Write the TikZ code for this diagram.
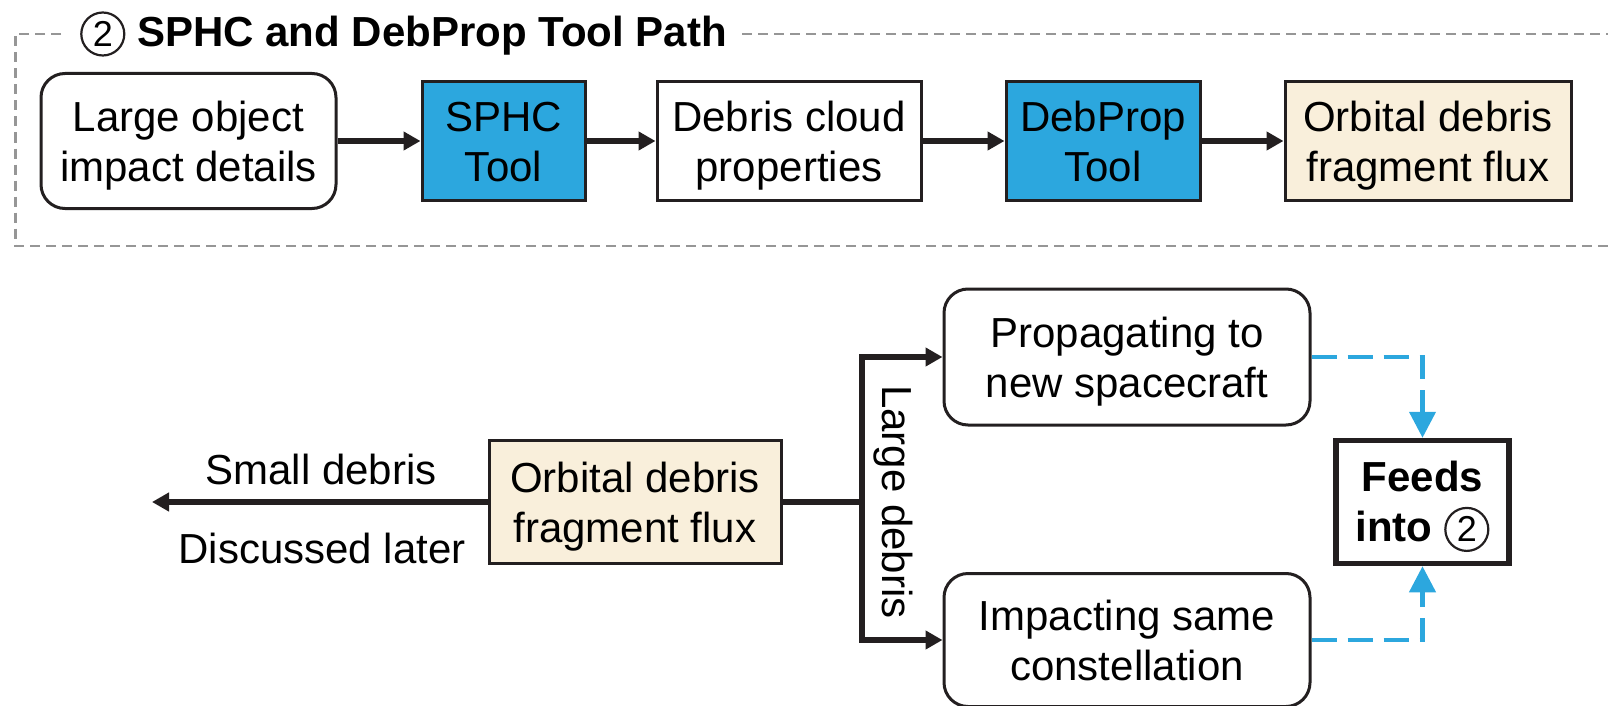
\documentclass[tikz,border=0pt]{standalone}
\usepackage{fontspec}
\setmainfont{Liberation Sans}
\usetikzlibrary{arrows.meta}
\definecolor{ink}{HTML}{231F20}
\definecolor{toolblue}{RGB}{44,167,222}
\definecolor{cream}{RGB}{249,239,219}
\definecolor{framegray}{RGB}{150,150,150}

% circled step number, set inline with the surrounding text
\newcommand{\stepnum}[1]{\tikz[baseline=(c.base)]\node[circle, draw=ink, line width=2.2pt, inner sep=0pt, minimum size=43pt, font=\fontsize{36}{36}\selectfont\mdseries] (c) {#1};}
% fixed line strut so that every two-line label sits the same way in its box
\newcommand{\ls}{\rule[-10pt]{0pt}{50pt}}

\begin{document}
\begin{tikzpicture}[x=1pt, y=-1pt,
  every node/.style={font=\fontsize{42}{50}\selectfont, align=center, inner sep=0pt},
  stepbox/.style={draw=ink, line width=3pt},
  roundbox/.style={stepbox, rounded corners=24pt},
  toolbox/.style={stepbox, fill=toolblue},
  fluxbox/.style={stepbox, fill=cream},
  flow/.style={draw=ink, line width=6.5pt, -{Triangle[length=17pt, width=18pt]}},
  branch/.style={draw=ink, line width=6pt, -{Triangle[length=17pt, width=18pt]}},
  trunk/.style={draw=ink, line width=6pt},
  feed/.style={draw=toolblue, line width=4.3pt, dash pattern=on 25pt off 11pt, -{Triangle[length=26pt, width=26pt]}},
  framedash/.style={draw=framegray, line width=2.2pt, dash pattern=on 10pt off 6pt}]

\useasboundingbox (0,0) rectangle (1608,706);

% dashed group frame, open at the title and running off to the right
\draw[framedash] (61,34) -- (15.5,34) -- (15.5,246) -- (1650,246);
\draw[framedash] (742,34) -- (1650,34);
\node[anchor=west, font=\fontsize{42}{50}\selectfont\bfseries] (title) at (80,34) {\stepnum{2} SPHC and DebProp Tool Path};

% tool path
\node[roundbox, minimum width=295pt, minimum height=135pt] (impact) at (188.5,141) {\ls Large object\\\ls impact details};
\node[toolbox, minimum width=163pt, minimum height=119pt] (sphc) at (503.5,141) {\ls SPHC\\\ls Tool};
\node[stepbox, minimum width=264pt, minimum height=119pt] (cloud) at (789,141) {\ls Debris cloud\\\ls properties};
\node[toolbox, minimum width=194pt, minimum height=119pt] (debprop) at (1103,141) {\ls DebProp\\\ls Tool};
\node[fluxbox, minimum width=286pt, minimum height=119pt] (fluxtop) at (1428,141) {\ls Orbital debris\\\ls fragment flux};

\draw[flow] (impact) -- (sphc);
\draw[flow] (sphc) -- (cloud);
\draw[flow] (cloud) -- (debprop);
\draw[flow] (debprop) -- (fluxtop);

% split of the fragment flux
\node[fluxbox, minimum width=292pt, minimum height=123pt] (fluxbot) at (635,502) {\ls Orbital debris\\\ls fragment flux};
\node[roundbox, minimum width=366pt, minimum height=136pt] (prop) at (1127,357) {\ls Propagating to\\\ls new spacecraft};
\node[roundbox, minimum width=366pt, minimum height=133pt] (imp) at (1127,640) {\ls Impacting same\\\ls constellation};
\node[draw=ink, line width=5.5pt, minimum width=173pt, minimum height=123pt, font=\fontsize{42}{50}\selectfont\bfseries] (feeds) at (1422.5,502) {\ls Feeds\\\ls into \stepnum{2}};

\coordinate (smallend) at (152,502);
\coordinate (split) at (862,502);

\draw[branch] (fluxbot.west) -- (smallend);
\node (small) at (321,469) {Small debris};
\node (later) at (322,548) {Discussed later};

\draw[trunk] (fluxbot.east) -- (split);
\draw[branch] (split) |- (prop.west);
\draw[branch] (split) |- (imp.west);
\node[rotate=-90] (large) at (893,502) {Large debris};

\draw[feed] (prop.east) -| (feeds.north);
\draw[feed] (imp.east) -| (feeds.south);
\end{tikzpicture}
\end{document}
